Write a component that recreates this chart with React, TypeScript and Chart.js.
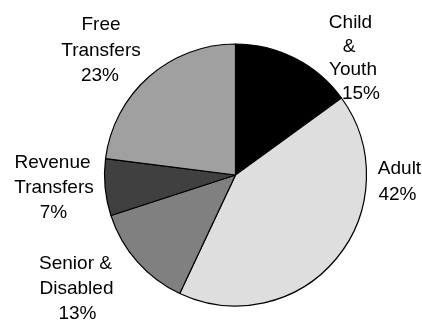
import React, { useEffect, useRef } from "react";
import { Chart, registerables } from "chart.js";

Chart.register(...registerables);

const categories = ["Child & Youth", "Adult", "Senior & Disabled", "Revenue Transfers", "Free Transfers"];
const categoryLines = [["Child", "&", "Youth"], ["Adult"], ["Senior &", "Disabled"], ["Revenue", "Transfers"], ["Free", "Transfers"]];
const shares = [15, 42, 13, 7, 23];
const sliceColors = ["#000000", "#dedede", "#808080", "#404040", "#a0a0a0"];

// text placement: center x per line, first baseline y, line height
const labelPlacement = [
  { xs: [350.5, 349, 353, 361], y: 28, lh: 23.5 },
  { xs: [399.5, 397.5], y: 174, lh: 25.5 },
  { xs: [75.5, 76.5, 77.5], y: 269, lh: 25 },
  { xs: [52.5, 54, 53.5], y: 168, lh: 25 },
  { xs: [101, 101, 100], y: 30, lh: 25.5 },
];

const labelPlugin = {
  id: "outerLabels",
  afterDraw(chart: any) {
    const ctx = chart.ctx;
    ctx.save();
    ctx.fillStyle = "#000";
    ctx.font = "19px 'Liberation Sans', Arial, sans-serif";
    ctx.textAlign = "center";
    ctx.textBaseline = "alphabetic";
    const data = chart.data.datasets[0].data as number[];
    categoryLines.forEach((lines, i) => {
      const p = labelPlacement[i];
      const all = [...lines, `${data[i]}%`];
      all.forEach((t, j) => {
        ctx.fillText(t, p.xs[j], p.y + j * p.lh);
      });
    });
    ctx.restore();
  },
};

export default function App() {
  const ref = useRef<HTMLCanvasElement>(null);
  useEffect(() => {
    if (!ref.current) return;
    const chart = new Chart(ref.current, {
      type: "pie",
      data: {
        labels: categories,
        datasets: [
          {
            data: shares,
            backgroundColor: sliceColors,
            borderColor: "#000",
            borderWidth: 1.2,
          },
        ],
      },
      options: {
        responsive: false,
        animation: false,
        devicePixelRatio: 1,
        radius: 131,
        layout: { padding: { left: 49, top: 30, right: 0, bottom: 0 } },
        plugins: {
          legend: { display: false },
          tooltip: { enabled: false },
        },
      } as any,
      plugins: [labelPlugin],
    });
    return () => chart.destroy();
  }, []);
  return (
    <div style={{ position: "absolute", left: 0, top: 0, width: 422, height: 320, background: "#fff" }}>
      <canvas ref={ref} width={422} height={320} style={{ display: "block" }} />
    </div>
  );
}
